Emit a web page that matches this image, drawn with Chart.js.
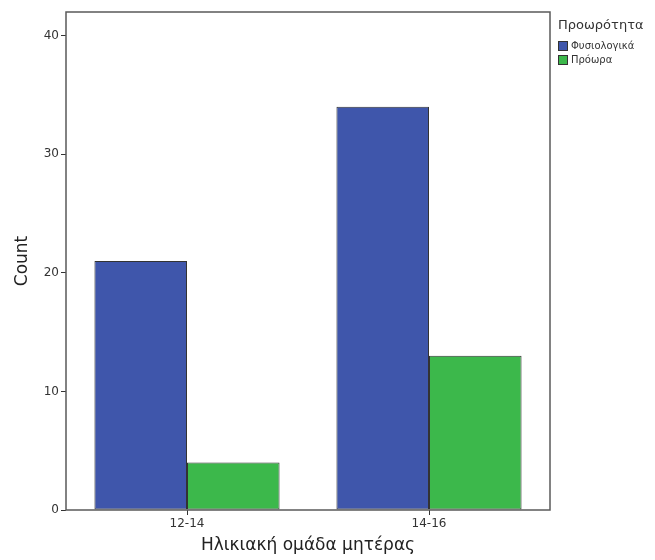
<!DOCTYPE html>
<html>
<head>
<meta charset="utf-8">
<script src="https://cdn.jsdelivr.net/npm/chart.js@4/dist/chart.umd.min.js"></script>
<style>
  html, body { margin: 0; padding: 0; background: #fff; }
  #wrap { width: 655px; height: 560px; }
</style>
</head>
<body>
<div id="wrap"><canvas id="chart"></canvas></div>
<script>
// Data
const categories = ['12-14', '14-16'];
const normalCounts = [21, 34];
const pretermCounts = [4, 13];
const seriesNames = ['Φυσιολογικά', 'Πρόωρα'];
const yTicks = [0, 10, 20, 30, 40];

const colors = ['#3F56AB', '#3CB84B'];
const FONT = '"DejaVu Sans", sans-serif';

// frame around the plot area
const framePlugin = {
    id: 'frame',
    afterDraw(chart) {
        const a = chart.chartArea;
        const ctx = chart.ctx;
        ctx.save();
        ctx.strokeStyle = '#5a5a5a';
        ctx.lineWidth = 1.5;
        ctx.strokeRect(a.left, a.top, a.right - a.left, a.bottom - a.top);
        ctx.restore();
    }
};

// SPSS-like legend to the right of the frame
const legendPlugin = {
    id: 'sideLegend',
    afterDraw(chart) {
        const ctx = chart.ctx;
        const x = chart.chartArea.right + 8;
        let y = 26;
        ctx.save();
        ctx.fillStyle = '#333';
        ctx.font = '13px ' + FONT;
        ctx.textBaseline = 'middle';
        ctx.fillText('Προωρότητα', x, y);
        y += 20;
        ctx.font = '10px ' + FONT;
        chart.data.datasets.forEach(ds => {
            ctx.fillStyle = ds.backgroundColor;
            ctx.fillRect(x, y - 5, 10, 10);
            ctx.strokeStyle = '#333';
            ctx.lineWidth = 1;
            ctx.strokeRect(x + 0.5, y - 4.5, 9, 9);
            ctx.fillStyle = '#333';
            ctx.fillText(ds.label, x + 13, y);
            y += 14;
        });
        ctx.restore();
    }
};

new Chart(document.getElementById('chart'), {
    type: 'bar',
    data: {
        labels: categories,
        datasets: [
            { label: seriesNames[0], data: normalCounts, backgroundColor: colors[0] },
            { label: seriesNames[1], data: pretermCounts, backgroundColor: colors[1] }
        ]
    },
    options: {
        responsive: true,
        maintainAspectRatio: false,
        animation: false,
        layout: { padding: { left: 12, top: 12, right: 105, bottom: 0 } },
        datasets: {
            bar: {
                borderColor: '#333',
                borderWidth: 1,
                borderSkipped: false,
                categoryPercentage: 0.765,
                barPercentage: 1
            }
        },
        plugins: {
            legend: { display: false },
            tooltip: { enabled: false }
        },
        scales: {
            x: {
                grid: { display: true, drawOnChartArea: false, offset: false, tickLength: 5, color: '#333' },
                border: { display: false },
                ticks: { color: '#333', font: { family: FONT, size: 12 }, padding: 2 },
                title: {
                    display: true, text: 'Ηλικιακή ομάδα μητέρας', color: '#222',
                    font: { family: FONT, size: 17 }, padding: { top: 10 }
                },
                afterFit(scale) { scale.height = 50; }
            },
            y: {
                min: 0,
                max: 42,
                afterBuildTicks(scale) { scale.ticks = yTicks.map(v => ({ value: v })); },
                grid: { display: true, drawOnChartArea: false, tickLength: 5, color: '#333' },
                border: { display: false },
                ticks: { color: '#333', font: { family: FONT, size: 12 }, padding: 2 },
                title: {
                    display: true, text: 'Count', color: '#222',
                    font: { family: FONT, size: 17 }, padding: { top: 0, bottom: 0 }
                },
                afterFit(scale) { scale.width = 54; }
            }
        }
    },
    plugins: [framePlugin, legendPlugin]
});
</script>
</body>
</html>
